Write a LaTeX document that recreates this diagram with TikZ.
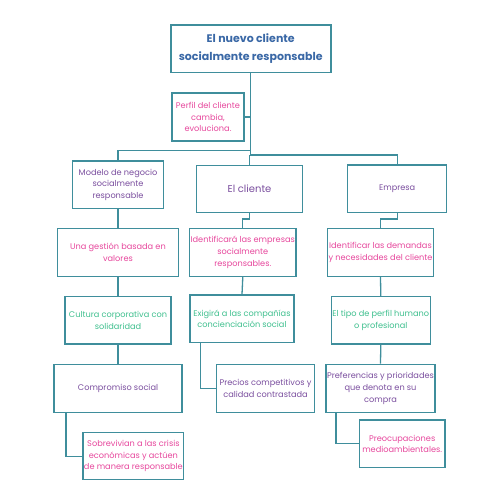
\documentclass[tikz,border=0pt]{standalone}
\usepackage{fontspec}
\setmainfont{Poppins}
\definecolor{borde}{HTML}{3F8E9C}
\definecolor{azul}{HTML}{3A68A6}
\definecolor{morado}{HTML}{7A4E9E}
\definecolor{magenta}{HTML}{E6479C}
\definecolor{verde}{HTML}{3FBF8E}

\begin{document}
\begin{tikzpicture}[x=1pt,y=-1pt,
    caja/.style={draw=borde,line width=1.3pt,align=center,inner sep=1pt,
        font=\fontsize{8.2}{11.7}\selectfont},
    linea/.style={draw=borde,line width=1.3pt}]
    \useasboundingbox (0,0) rectangle (480,480);

    \node[caja,line width=1.6pt,minimum width=160pt,minimum height=47.7pt,text=azul,
        font=\fontsize{11}{18}\selectfont\bfseries] (titulo) at (250.7,48.8) {El nuevo cliente\\socialmente responsable};
    \node[caja,minimum width=72pt,minimum height=48pt,text=magenta] (perfil) at (208,117) {Perfil del cliente\\cambia,\\evoluciona.};

    \node[caja,minimum width=90.6pt,minimum height=47.3pt,text=morado] (modelo) at (118,184.7) {Modelo de negocio\\socialmente\\responsable};
    \node[caja,minimum width=105.6pt,minimum height=47pt,text=morado,
        font=\fontsize{10}{12}\selectfont] (cliente) at (249.5,189.2) {El cliente};
    \node[caja,minimum width=99pt,minimum height=47.7pt,text=morado] (empresa) at (397.2,188.8) {Empresa};

    \node[caja,minimum width=120.6pt,minimum height=47.6pt,text=magenta] (gestion) at (118,252.5) {Una gesti\'on basada en\\valores};
    \node[caja,minimum width=99pt,minimum height=47.6pt,text=magenta] (identifica) at (242.8,252.5) {Identificar\'a las empresas\\socialmente\\responsables.};
    \node[caja,minimum width=102.4pt,minimum height=47.6pt,text=magenta] (demandas) at (380.5,252.5) {Identificar las demandas\\y necesidades del cliente};

    \node[caja,minimum width=106pt,minimum height=47.3pt,text=verde] (cultura) at (118,320.3) {Cultura corporativa con\\solidaridad};
    \node[caja,minimum width=104pt,minimum height=47.7pt,text=verde] (exige) at (242,318.8) {Exigir\'a a las compa\~n\'ias\\concienciaci\'on social};
    \node[caja,minimum width=95pt,minimum height=47.3pt,text=verde] (tipo) at (380.8,320.3) {El tipo de perfil humano\\o profesional};

    \node[caja,minimum width=128pt,minimum height=48pt,text=morado] (compromiso) at (118,388.3) {Compromiso social};
    \node[caja,minimum width=97.6pt,minimum height=48pt,text=morado] (precios) at (265.5,388.3) {Precios competitivos y\\calidad contrastada};
    \node[caja,minimum width=102.4pt,minimum height=48pt,text=morado] (preferencias) at (380.5,388.3) {Preferencias y prioridades\\que denota en su\\compra};

    \node[caja,minimum width=94.7pt,minimum height=47.7pt,text=magenta] (sobrevivian) at (133.4,456.2) {Sobrevivian a las crisis\\econ\'omicas y act\'uen\\de manera responsable};
    \node[caja,minimum width=85.7pt,minimum height=47.7pt,text=magenta] (preocupa) at (402.2,443.8) {Preocupaciones\\medioambientales.};

    \coordinate (izq) at (250,150.7);
    \coordinate (der) at (250,155);

    \draw[linea] (titulo.south) -- (titulo.south |- der);
    \draw[linea] (perfil.east) -- (perfil.east -| titulo.south);
    \draw[linea] (modelo.north) |- (izq);
    \draw[linea] (der) -| (empresa.north);
    \draw[linea] (cliente.north) -- (cliente.north |- der);

    \draw[linea] (modelo.south) -- (gestion.north);
    \draw[linea] (cliente.south) -- ++(0,5.6) -| (identifica.north);
    \draw[linea] (empresa.south) -- ++(0,5.6) -| (demandas.north);

    \draw[linea] (gestion.south) -- (cultura.north);
    \draw[linea] (identifica.south) -- (exige.north);
    \draw[linea] (demandas.south) -- (tipo.north);

    \draw[linea] (cultura.south) -- (compromiso.north);
    \draw[linea] ([xshift=11pt]exige.south west) |- (precios.west);
    \draw[linea] (tipo.south) -- (preferencias.north);

    \draw[linea] ([xshift=12.7pt]compromiso.south west) |- (sobrevivian.west);
    \draw[linea] ([xshift=10.7pt]preferencias.south west) |- (preocupa.west);
\end{tikzpicture}
\end{document}
